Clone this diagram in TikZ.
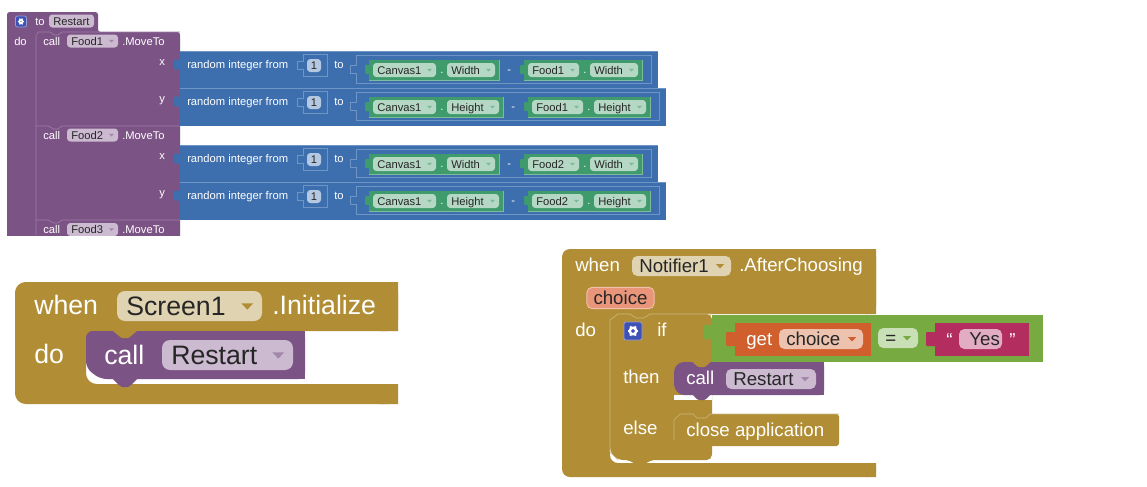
\documentclass[tikz,border=0pt]{standalone}
\usepackage{fontspec}
\setmainfont{Liberation Sans}
\usetikzlibrary{calc}
\definecolor{purp}{HTML}{7C5385}
\definecolor{purpL}{HTML}{CBBAD0}
\definecolor{purpE}{HTML}{9C7CA4}
\definecolor{blu}{HTML}{3D6FAE}
\definecolor{bluL}{HTML}{B4C8E2}
\definecolor{bluE}{HTML}{6E95C6}
\definecolor{mgr}{HTML}{3F9A6C}
\definecolor{mgrL}{HTML}{B5D8C5}
\definecolor{mgrE}{HTML}{7DBB9A}
\definecolor{gold}{HTML}{B18E35}
\definecolor{goldL}{HTML}{DFD3B1}
\definecolor{goldE}{HTML}{CDB77C}
\definecolor{lgr}{HTML}{77AB41}
\definecolor{lgrL}{HTML}{C9DFB5}
\definecolor{org}{HTML}{D05F2D}
\definecolor{orgL}{HTML}{EDC2AE}
\definecolor{pnk}{HTML}{B32D5E}
\definecolor{pnkL}{HTML}{E2ADC2}
\definecolor{chc}{HTML}{E8957A}
\definecolor{chcE}{HTML}{F2BFAD}
\definecolor{gearb}{HTML}{3F51B5}
\newcommand\fsS{\fontsize{8.4pt}{10pt}\selectfont}
\newcommand\fsL{\fontsize{20pt}{24pt}\selectfont}
\newcommand\fsM{\fontsize{14pt}{17pt}\selectfont}
\newcommand\capbox[1]{\rule{0pt}{.72em}\smash{#1}}
\tikzset{
 x=0.75pt,y=-0.75pt,
 lbl/.style={text=white,inner sep=0pt,anchor=west},
 pillbox/.style={inner ysep=0pt,text=black!85},
}
% name, x1, x2, yc, h, fill, triangle colour (empty for none), text
\newcommand\ddpill[8]{%
 \pgfmathsetmacro\mypw{(#3-#2)*0.75}%
 \pgfmathsetmacro\myph{#5*0.75}%
 \pgfmathsetmacro\mypt{\mypw-2*\pilpad}%
 \pgfmathsetmacro\mypc{(#2+#3)/2}%
 \node[pillbox,rounded corners=\pilrc pt,fill=#6,font=\pilfont,inner xsep=\pilpad pt,minimum height=\myph pt] (#1) at (\mypc,#4) {\makebox[\mypt pt][l]{\capbox{#8}}};%
 \def\mytmp{#7}%
 \ifx\mytmp\empty\else
 \pgfmathsetmacro\mytx{#3-\pilpad/0.75-\tris*0.9}%
 \fill[#7] (\mytx-\tris,#4-\tris*.45) -- (\mytx+\tris,#4-\tris*.45) -- (\mytx,#4+\tris*.6) -- cycle;\fi
}
\newcommand\tabL[5]{\fill[#5,rounded corners=0.8pt] (#1+1,#2-#3) -- (#1-#4,#2-#3) -- (#1-#4,#2+#3) -- (#1+1,#2+#3) -- cycle;}
% socket outline
\newcommand\sockt[6]{\draw[#6,line width=.5pt] (#1,#2) -- (#3,#2) -- (#3,#4) -- (#1,#4) -- (#1,#5+4) -- (#1-6,#5+4) -- (#1-6,#5-4) -- (#1,#5-4) -- cycle;}
\newcommand\gearic[4]{% name, xc, yc, half
 \node[rounded corners=1.5pt,fill=gearb,draw=gearb!55!white,line width=.6pt,minimum size=#4*1.5pt,inner sep=0pt] (#1) at (#2,#3) {};
 \foreach \a in {0,60,...,300}{\draw[white,line width=#4*.17pt] ($(#2,#3)+(\a:#4*.4)$) -- ($(#2,#3)+(\a:#4*.6)$);}
 \draw[white,line width=#4*.2pt] (#2,#3) circle[radius=#4*.36];
}
% blue row
\newcommand\mrow[6]{% id, ytop, Food, Dim, s, w
 \pgfmathsetmacro\yt{#2}\pgfmathsetmacro\yb{#2+37.5}\pgfmathsetmacro\rt{658+#5+#6}%
 \fill[blu] (180,\yt) rectangle (\rt,\yb);
 \draw[bluE,line width=.4pt] (180,\yt) -- (\rt,\yt);
 \tabL{180}{#2+13}{5}{6}{blu}
 \node[lbl,font=\fsS] (r#1) at (187,#2+13) {\capbox{random integer from}};
 \sockt{303}{#2+3}{327}{#2+25}{#2+14}{bluE}
 \def\pilfont{\fsS}\def\pilpad{2}\def\tris{2.5}\def\pilrc{2.5}
 \ddpill{one#1}{307}{321}{#2+14}{13}{bluL}{}{\kern .9pt 1}
 \def\pilpad{3.2}
 \node[lbl,font=\fsS] (to#1) at (334,#2+13) {\capbox{to}};
 \sockt{356}{#2+4}{\rt-7}{#2+32}{#2+18}{bluE}
 \tabL{369}{#2+18}{4.5}{4}{mgr}
 \pgfmathsetmacro\ga{499+#5}\fill[mgr] (369,#2+8) rectangle (\ga,#2+29);
 \draw[mgrE,line width=.4pt] (\ga,#2+8) -- (\ga,#2+29) -- (369,#2+29);
 \ddpill{ca#1}{373}{436}{#2+18.5}{14}{mgrL}{mgr!70!white}{Canvas1}
 \node[lbl,font=\fsS] (da#1) at (440,#2+17.5) {\capbox{.}};
 \pgfmathsetmacro\pa{447}\pgfmathsetmacro\pb{495+#5}
 \ddpill{da#1w}{\pa}{\pb}{#2+18.5}{14}{mgrL}{mgr!70!white}{#4}
 \pgfmathsetmacro\dx{507+#5}\node[lbl,font=\fsS] (mi#1) at (\dx,#2+18) {\capbox{-}};
 \pgfmathsetmacro\gb{524+#5}\pgfmathsetmacro\gc{642+#5+#6}
 \tabL{\gb}{#2+18}{4.5}{4}{mgr}
 \fill[mgr] (\gb,#2+8) rectangle (\gc,#2+29);
 \draw[mgrE,line width=.4pt] (\gc,#2+8) -- (\gc,#2+29) -- (\gb,#2+29);
 \pgfmathsetmacro\fa{528+#5}\pgfmathsetmacro\fb{579+#5}
 \ddpill{fo#1}{\fa}{\fb}{#2+18.5}{14}{mgrL}{mgr!70!white}{#3}
 \pgfmathsetmacro\dy{583+#5}\node[lbl,font=\fsS] (db#1) at (\dy,#2+17.5) {\capbox{.}};
 \pgfmathsetmacro\ha{590+#5}\pgfmathsetmacro\hb{638+#5+#6}
 \ddpill{di#1}{\ha}{\hb}{#2+18.5}{14}{mgrL}{mgr!70!white}{#4}
}
\newcommand\callrow[3]{% id, y text, Food
 \node[lbl,font=\fsS] (call#1) at (43,#2) {\capbox{call}};
 \def\pilfont{\fsS}\def\pilpad{3.2}\def\tris{2.5}\def\pilrc{2.5}
 \ddpill{f#1}{67}{118}{#2}{13}{purpL}{purp!70!white}{#3}
 \node[lbl,font=\fsS] (mv#1) at (122,#2) {\capbox{.MoveTo}};
}
\begin{document}
\begin{tikzpicture}
\useasboundingbox (0,0) rectangle (1147,486);
\fill[white] (0,0) rectangle (1147,486);
% === top: procedure ===
\fill[purp,rounded corners=2pt] (7,12) -- (98,12) -- (98,32) -- (180,32) -- (180,240) -- (7,240) -- cycle;
\draw[purpE,line width=.5pt] (36,235) -- (36,36) -- (38,32) -- (50,32) -- (54,35) -- (58,35) -- (62,32) -- (180,32);
\draw[purpE,line width=.5pt] (36,126) -- (48,126) -- (54,129) -- (58,129) -- (62,126) -- (180,126);
\draw[purpE,line width=.5pt] (36,220) -- (48,220) -- (54,223) -- (58,223) -- (62,220) -- (180,220);
\gearic{g0}{21}{21.5}{5.5}
\node[lbl,font=\fsS] (to0) at (35,21) {\capbox{to}};
\def\pilfont{\fsS}\def\pilpad{3.2}\def\tris{2.5}\def\pilrc{2.5}
\ddpill{res0}{49}{94}{21}{13}{purpL}{}{Restart}
\node[lbl,font=\fsS] (do0) at (14,41) {\capbox{do}};
\callrow{1}{41}{Food1}
\callrow{2}{135}{Food2}
\callrow{3}{229.5}{Food3}
\node[lbl,font=\fsS] (x1) at (159,61) {\capbox{x}};
\node[lbl,font=\fsS] (y1) at (159,98) {\capbox{y}};
\node[lbl,font=\fsS] (x2) at (159,155) {\capbox{x}};
\node[lbl,font=\fsS] (y2) at (159,192) {\capbox{y}};
\fill[white] (0,235.5) rectangle (200,250);
\mrow{a}{51.5}{Food1}{Width}{0}{0}
\mrow{b}{88.5}{Food1}{Height}{4}{4}
\mrow{c}{145.5}{Food2}{Width}{0}{0}
\mrow{d}{182.5}{Food2}{Height}{4}{4}
% === bottom-left ===
\fill[gold,rounded corners=8pt] (15,282) -- (398,282) -- (398,331) -- (86,331) -- (86,384) -- (398,384) -- (398,404) -- (15,404) -- cycle;
\fill[gold] (398,282) rectangle (380,331) (398,384) rectangle (380,404);
\fill[gold] (86,384) rectangle (110,386);
\fill[purp,rounded corners=5pt] (86,345) -- (86,331) -- (290,331) -- (305,331) -- (305,379) -- (100,379) -- (86,368) -- cycle;
\fill[purp] (295,331) rectangle (305,379);
\fill[purp] (112,378) -- (138,378) -- (131,385) -- (128,387) -- (122,387) -- (119,385) -- cycle;
\fill[gold] (112,330) -- (138,330) -- (131,336) -- (128,338) -- (122,338) -- (119,336) -- cycle;
\node[lbl,font=\fsL] (w1) at (34,305) {\capbox{when}};
\def\pilfont{\fsL}\def\pilpad{7}\def\tris{6}\def\pilrc{6}
\ddpill{scr}{117}{262}{306}{30}{goldL}{gold}{Screen1}
\node[lbl,font=\fsL] (ini) at (272,305) {\capbox{.Initialize}};
\node[lbl,font=\fsL] (d1) at (34,354) {\capbox{do}};
\node[lbl,font=\fsL] (c1) at (104,355) {\capbox{call}};
\ddpill{r1}{162}{293}{355}{30}{purpL}{purp!70!white}{Restart}
% === bottom-right ===
\fill[gold,rounded corners=6pt] (562,249) -- (876,249) -- (876,314) -- (610,314) -- (610,463) -- (876,463) -- (876,477) -- (562,477) -- cycle;
\fill[gold] (866,249) rectangle (876,314) (866,463) rectangle (876,477);
% if block
\fill[gold,rounded corners=4pt] (610,320) -- (610,314) -- (712,314) -- (712,460) -- (650,460) -- (644,465) -- (636,465) -- (630,460) -- (618,460) -- (610,452) -- cycle;
\draw[goldE,line width=.5pt] (712,314) -- (650,314) -- (644,318) -- (636,318) -- (630,314) -- (618,314) -- (610,320) -- (610,452) -- (618,460);
\fill[lgr] (712,315) rectangle (1043,362);
\tabL{712}{332}{7}{9}{lgr}
\fill[white] (674,395) rectangle (712,400);
\fill[gold,rounded corners=2pt] (674,420) -- (680,414) -- (839,414) -- (839,446) -- (680,446) -- (674,440) -- cycle;
\draw[goldE,line width=.5pt] (674,440) -- (674,420) -- (680,414) -- (693,414) -- (697,418) -- (706,418) -- (710,414) -- (839,414);
\fill[purp,rounded corners=3pt] (674,368) -- (680,362) -- (824,362) -- (824,395) -- (680,395) -- (674,388) -- cycle;
\fill[purp] (814,362) rectangle (824,395);
\fill[purp] (692,394) -- (711,394) -- (706,399) -- (704,400) -- (699,400) -- (697,399) -- cycle;
\fill[gold] (692,361.5) -- (711,361.5) -- (706,366) -- (704,367) -- (699,367) -- (697,366) -- cycle;
\fill[org] (735,323) rectangle (871,356);
\tabL{735}{339}{7}{9}{org}
\fill[pnk] (935,323) rectangle (1029,356);
\tabL{935}{339}{7}{9}{pnk}
\node[lbl,font=\fsM] (w2) at (575,265) {\capbox{when}};
\def\pilfont{\fsM}\def\pilpad{5.5}\def\tris{4}\def\pilrc{4}
\ddpill{nt}{632}{731}{266}{20}{goldL}{gold}{Notifier1}
\node[lbl,font=\fsM] (ac) at (739,265) {\capbox{.AfterChoosing}};
\node[pillbox,rounded corners=4pt,fill=chc,draw=chcE,line width=.7pt,font=\fsM,inner xsep=5pt,minimum height=16pt] (ch) at (620.5,298) {\capbox{choice}};
\node[lbl,font=\fsM] (d2) at (575,330) {\capbox{do}};
\gearic{g1}{633}{331}{9}
\node[lbl,font=\fsM] (if) at (657,330) {\capbox{if}};
\node[lbl,font=\fsM] (th) at (623,377) {\capbox{then}};
\node[lbl,font=\fsM] (el) at (623,428) {\capbox{else}};
\node[lbl,font=\fsM] (c2) at (686,378) {\capbox{call}};
\ddpill{r2}{726}{816}{379}{20}{purpL}{purp!70!white}{Restart}
\node[lbl,font=\fsM] (cl) at (686,430) {\capbox{close application}};
\node[lbl,font=\fsM] (get) at (746,339) {\capbox{get}};
\ddpill{cv}{779}{863}{339}{20}{orgL}{org}{choice}
\ddpill{eq}{878}{918}{338}{20}{lgrL}{lgr}{=}
\node[lbl,font=\fsM] (q1) at (946,339.5) {\capbox{“}};
\ddpill{yes}{959}{1002}{339}{20}{pnkL}{}{\,Yes}
\node[lbl,font=\fsM] (q2) at (1009,339.5) {\capbox{”}};
\end{tikzpicture}
\end{document}
